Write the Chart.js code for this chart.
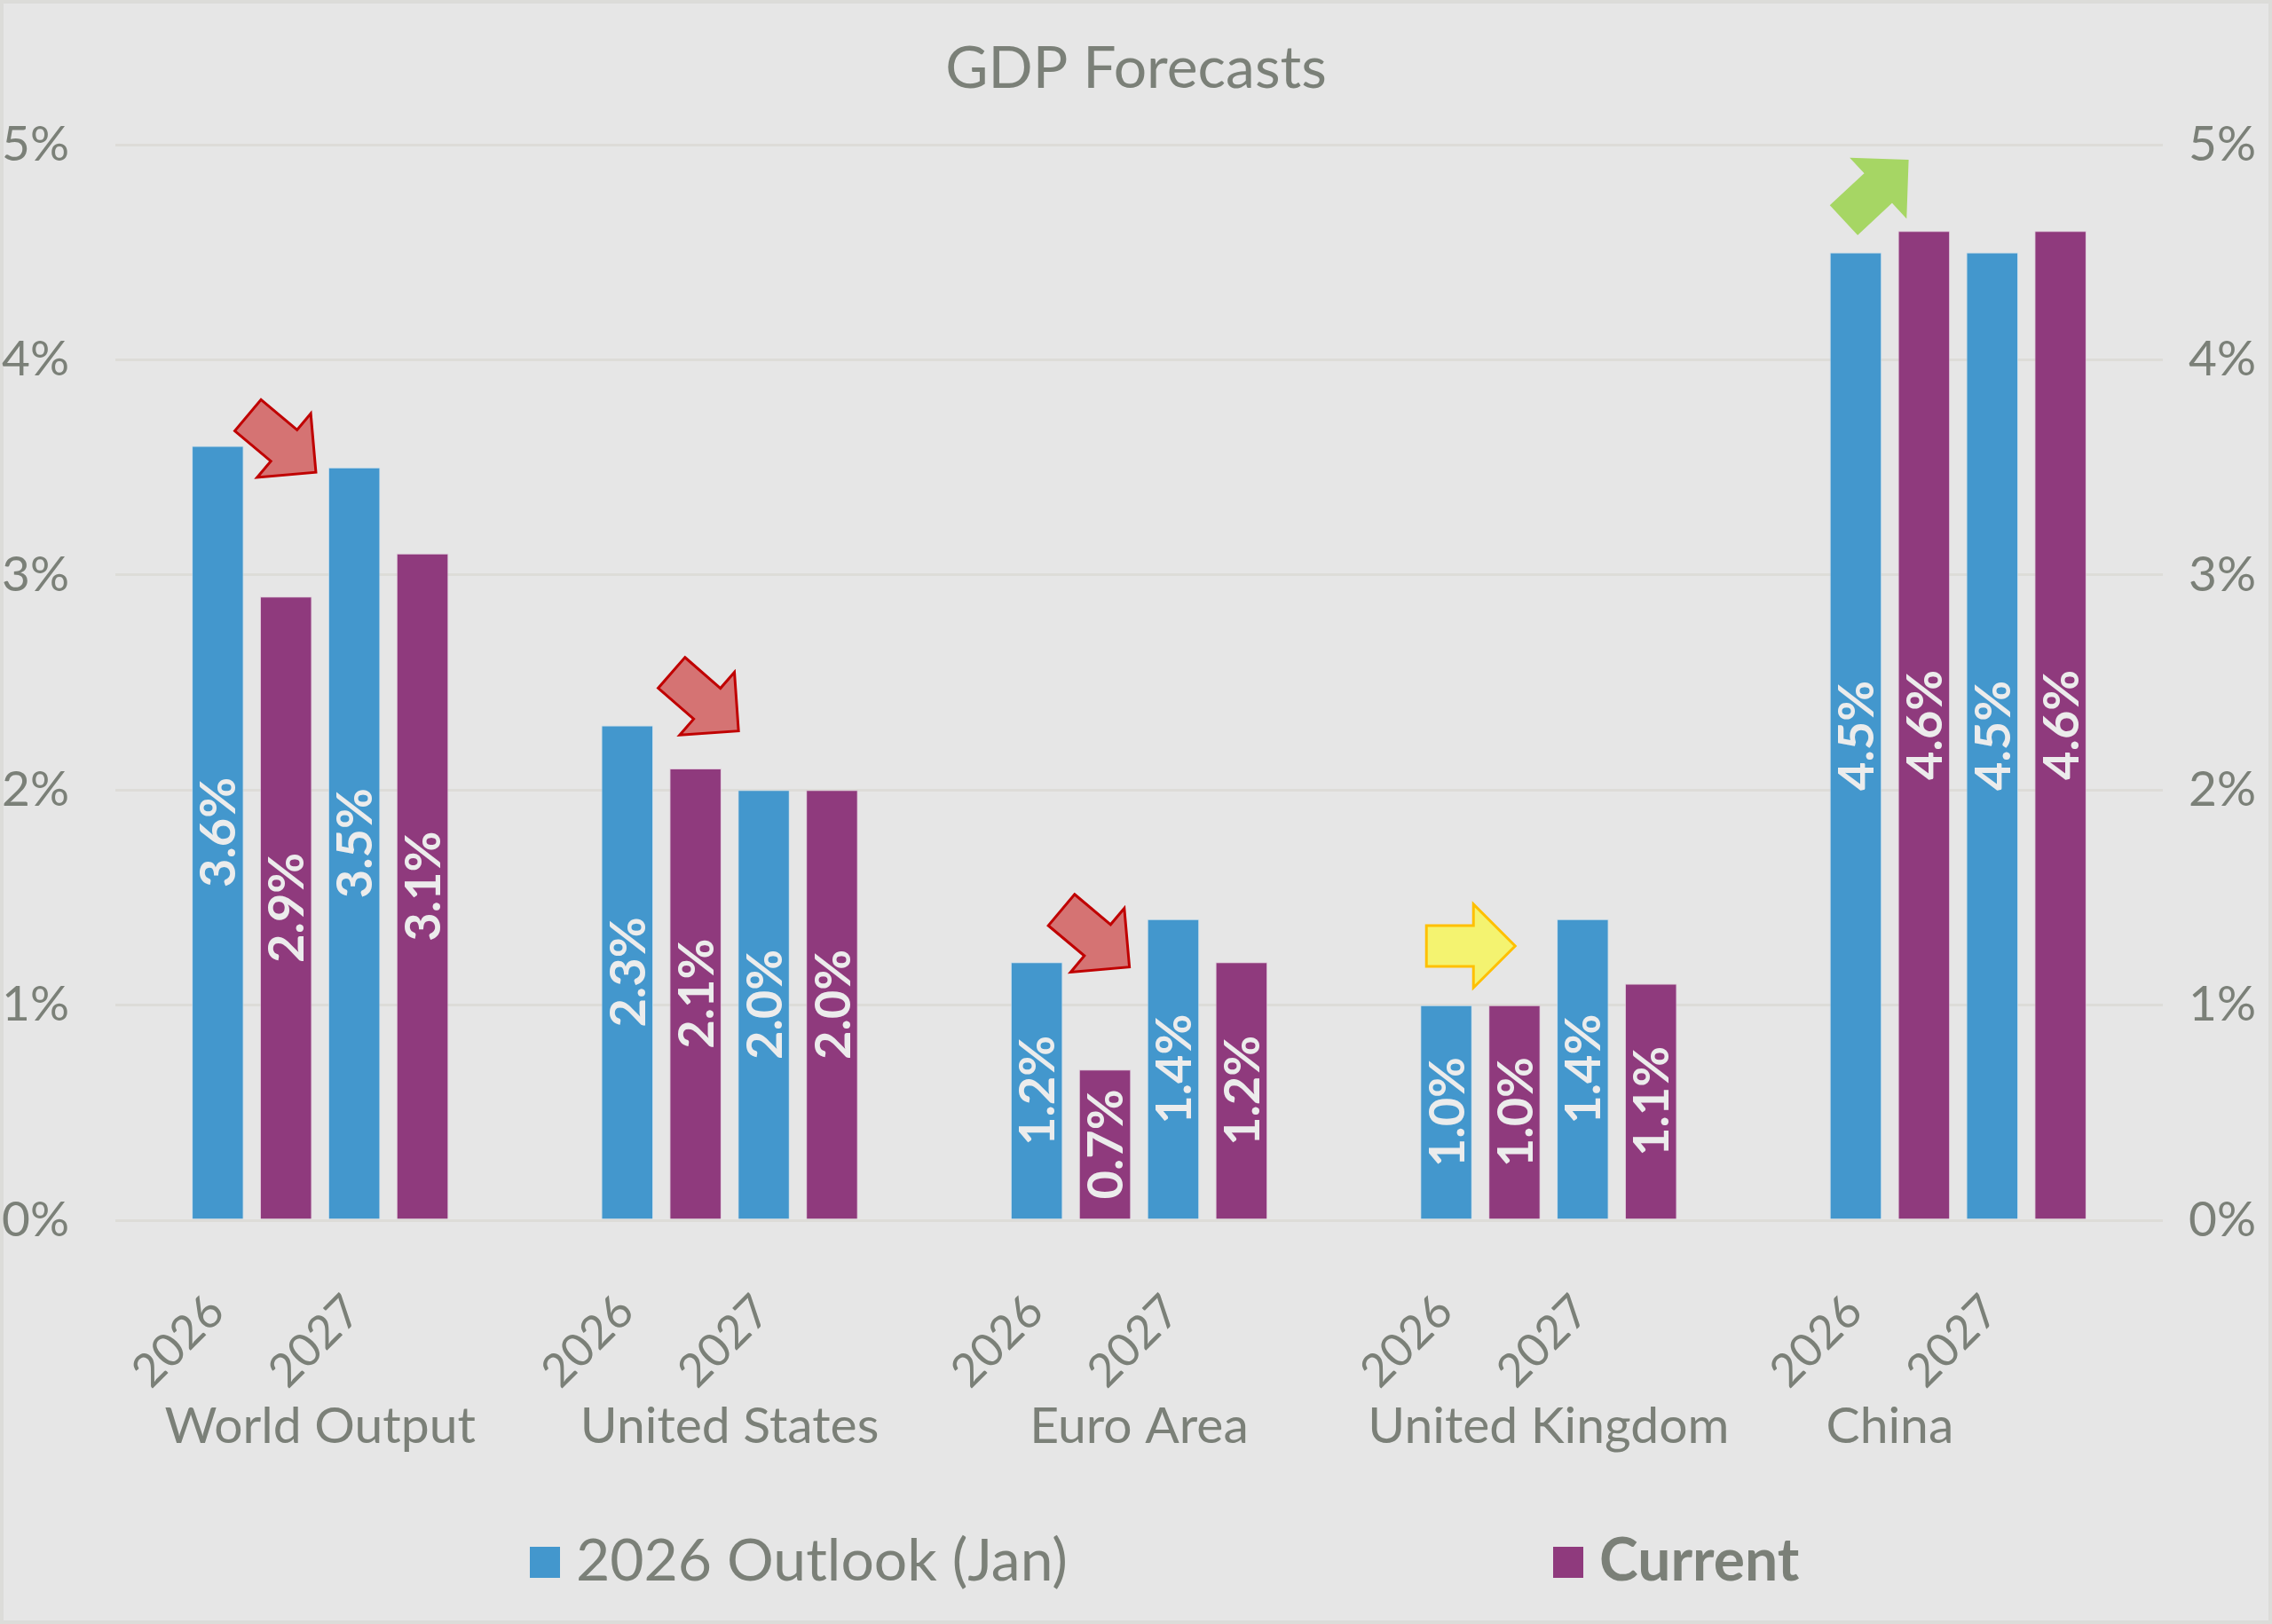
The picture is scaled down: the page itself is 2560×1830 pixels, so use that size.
<!DOCTYPE html>
<html>
<head>
<meta charset="utf-8">
<title>GDP Forecasts</title>
<script src="https://cdn.jsdelivr.net/npm/chart.js@4.4.1/dist/chart.umd.min.js"></script>
<style>
  html, body { margin: 0; padding: 0; background: #e6e6e6; }
  canvas { display: block; }
</style>
</head>
<body>
<canvas id="gdpChart" width="2560" height="1830"></canvas>
<script>
// ---- data ----
const groups = ['World Output', 'United States', 'Euro Area', 'United Kingdom', 'China'];
const years = ['2026', '2027'];
const seriesNames = ['2026 Outlook (Jan)', 'Current'];
// two values per group: 2026, 2027
const outlookJan = [3.6, 3.5, 2.3, 2.0, 1.2, 1.4, 1.0, 1.4, 4.5, 4.5];
const current = [2.9, 3.1, 2.1, 2.0, 0.7, 1.2, 1.0, 1.1, 4.6, 4.6];
const yTicks = [0, 1, 2, 3, 4, 5];

// revision arrows (x in category units, y in %)
const arrows = [
  { x: 1.22, y: 3.61, angle: 40, kind: 'down' },
  { x: 4.32, y: 2.41, angle: 41, kind: 'down' },
  { x: 7.18, y: 1.31, angle: 40, kind: 'down' },
  { x: 9.93, y: 1.275, angle: 0, kind: 'flat' },
  { x: 12.9, y: 4.79, angle: -43, kind: 'up' },
];

const TEXT = '#7b8078';
const BLUE = '#4397cd';
const PURPLE = '#8f3a7d';
const FONT = 'Lato, "Open Sans", sans-serif';

const arrowStyle = {
  down: { fill: '#d57373', stroke: '#c00000' },
  flat: { fill: '#f4f370', stroke: '#ffc000' },
  up: { fill: '#a6d664', stroke: null },
};

// spacer category before each group and after the last one
const labels = [''];
const janData = [null];
const curData = [null];
groups.forEach((g, gi) => {
  years.forEach((yr, yi) => {
    labels.push(yr);
    janData.push(outlookJan[gi * 2 + yi]);
    curData.push(current[gi * 2 + yi]);
  });
  labels.push('');
  janData.push(null);
  curData.push(null);
});

// ---- plugins ----
const background = {
  id: 'background',
  beforeDraw(chart) {
    const { ctx, width, height } = chart;
    ctx.save();
    ctx.fillStyle = '#e6e6e6';
    ctx.fillRect(0, 0, width, height);
    ctx.strokeStyle = '#dcdcd9';
    ctx.lineWidth = 4;
    ctx.strokeRect(2, 2, width - 4, height - 4);
    ctx.restore();
  }
};

const barLabels = {
  id: 'barLabels',
  afterDatasetsDraw(chart) {
    const { ctx } = chart;
    ctx.save();
    ctx.font = 'bold 56px ' + FONT;
    ctx.fillStyle = '#ececec';
    ctx.textAlign = 'center';
    ctx.textBaseline = 'middle';
    chart.data.datasets.forEach((ds, di) => {
      chart.getDatasetMeta(di).data.forEach((bar, i) => {
        const v = ds.data[i];
        if (v === null) return;
        ctx.save();
        ctx.translate(bar.x + 2, (bar.y + bar.base) / 2);
        ctx.rotate(-Math.PI / 2);
        ctx.fillText(v.toFixed(1) + '%', 0, 0);
        ctx.restore();
      });
    });
    ctx.restore();
  }
};

function drawArrow(ctx, cx, cy, angle, style) {
  const len = 100, head = 47, shaft = 23, wing = 47;
  const tail = -len / 2, base = len / 2 - head, tip = len / 2;
  ctx.save();
  ctx.translate(cx, cy);
  ctx.rotate(angle * Math.PI / 180);
  ctx.beginPath();
  ctx.moveTo(tail, -shaft);
  ctx.lineTo(base, -shaft);
  ctx.lineTo(base, -wing);
  ctx.lineTo(tip, 0);
  ctx.lineTo(base, wing);
  ctx.lineTo(base, shaft);
  ctx.lineTo(tail, shaft);
  ctx.closePath();
  ctx.fillStyle = style.fill;
  ctx.fill();
  if (style.stroke) {
    ctx.strokeStyle = style.stroke;
    ctx.lineWidth = 3;
    ctx.lineJoin = 'miter';
    ctx.stroke();
  }
  ctx.restore();
}

const revisionArrows = {
  id: 'revisionArrows',
  afterDatasetsDraw(chart) {
    const xs = chart.scales.x, ys = chart.scales.y;
    arrows.forEach(a => {
      drawArrow(chart.ctx, xs.getPixelForValue(a.x), ys.getPixelForValue(a.y), a.angle, arrowStyle[a.kind]);
    });
  }
};

// second level of the category axis
const groupLabels = {
  id: 'groupLabels',
  afterDraw(chart) {
    const { ctx, chartArea } = chart;
    const xs = chart.scales.x;
    ctx.save();
    ctx.font = '57px ' + FONT;
    ctx.fillStyle = TEXT;
    ctx.textAlign = 'center';
    ctx.textBaseline = 'alphabetic';
    groups.forEach((g, gi) => {
      let first = 1 + gi * 3;
      const last = first + 1;
      // last group's label also spans the spacer before it (as in the original)
      if (gi === groups.length - 1) first -= 1;
      const x = (xs.getPixelForValue(first) + xs.getPixelForValue(last)) / 2;
      ctx.fillText(g, x, chartArea.bottom + 251);
    });
    ctx.restore();
  }
};

const legendRow = {
  id: 'legendRow',
  afterDraw(chart) {
    const { ctx, chartArea } = chart;
    const colors = [BLUE, PURPLE];
    const starts = [467, 1620];
    const y = chartArea.bottom + 406;
    ctx.save();
    ctx.textAlign = 'left';
    ctx.textBaseline = 'alphabetic';
    seriesNames.forEach((name, i) => {
      const x = chartArea.left + starts[i];
      ctx.fillStyle = colors[i];
      ctx.fillRect(x, y - 38, 34, 35);
      ctx.font = (i === 1 ? 'bold ' : '') + '66px ' + FONT;
      ctx.fillStyle = TEXT;
      ctx.fillText(name, x + 52, y);
    });
    ctx.restore();
  }
};

// ---- chart ----
const yAxis = (pos, pad, width) => ({
  type: 'linear',
  position: pos,
  min: 0,
  max: 5,
  afterBuildTicks: s => { s.ticks = yTicks.map(v => ({ value: v })); },
  afterFit: s => { s.width = width; },
  grid: {
    display: pos === 'left',
    drawTicks: false,
    color: '#dddcd8',
    lineWidth: 3
  },
  border: { display: false },
  ticks: {
    padding: pad,
    color: TEXT,
    font: { family: FONT, size: 55 },
    callback: v => v + '%'
  }
});

new Chart(document.getElementById('gdpChart'), {
  type: 'bar',
  data: {
    labels: labels,
    datasets: [
      {
        label: seriesNames[0],
        data: janData,
        backgroundColor: BLUE,
        borderColor: 'rgba(190, 220, 240, 0.7)',
        borderWidth: 1,
        categoryPercentage: 1,
        barPercentage: 0.761
      },
      {
        label: seriesNames[1],
        data: curData,
        backgroundColor: PURPLE,
        borderColor: 'rgba(220, 180, 210, 0.6)',
        borderWidth: 1,
        categoryPercentage: 1,
        barPercentage: 0.761
      }
    ]
  },
  options: {
    responsive: false,
    devicePixelRatio: 1,
    animation: false,
    layout: { padding: 0 },
    plugins: {
      legend: { display: false },
      tooltip: { enabled: false },
      title: {
        display: true,
        text: 'GDP Forecasts',
        color: TEXT,
        font: { family: FONT, size: 66, weight: 'normal', lineHeight: 1.2 },
        padding: { top: 38, bottom: 46 }
      }
    },
    scales: {
      x: {
        type: 'category',
        offset: false,
        afterFit: s => { s.height = 455; },
        grid: { display: false, drawTicks: false },
        border: { display: false },
        ticks: {
          autoSkip: false,
          minRotation: 45,
          maxRotation: 45,
          padding: 72,
          labelOffset: -40,
          color: TEXT,
          font: { family: FONT, size: 52 }
        }
      },
      y: yAxis('left', 52, 130),
      y2: yAxis('right', 29, 123)
    }
  },
  plugins: [background, barLabels, revisionArrows, groupLabels, legendRow]
});
</script>
</body>
</html>
